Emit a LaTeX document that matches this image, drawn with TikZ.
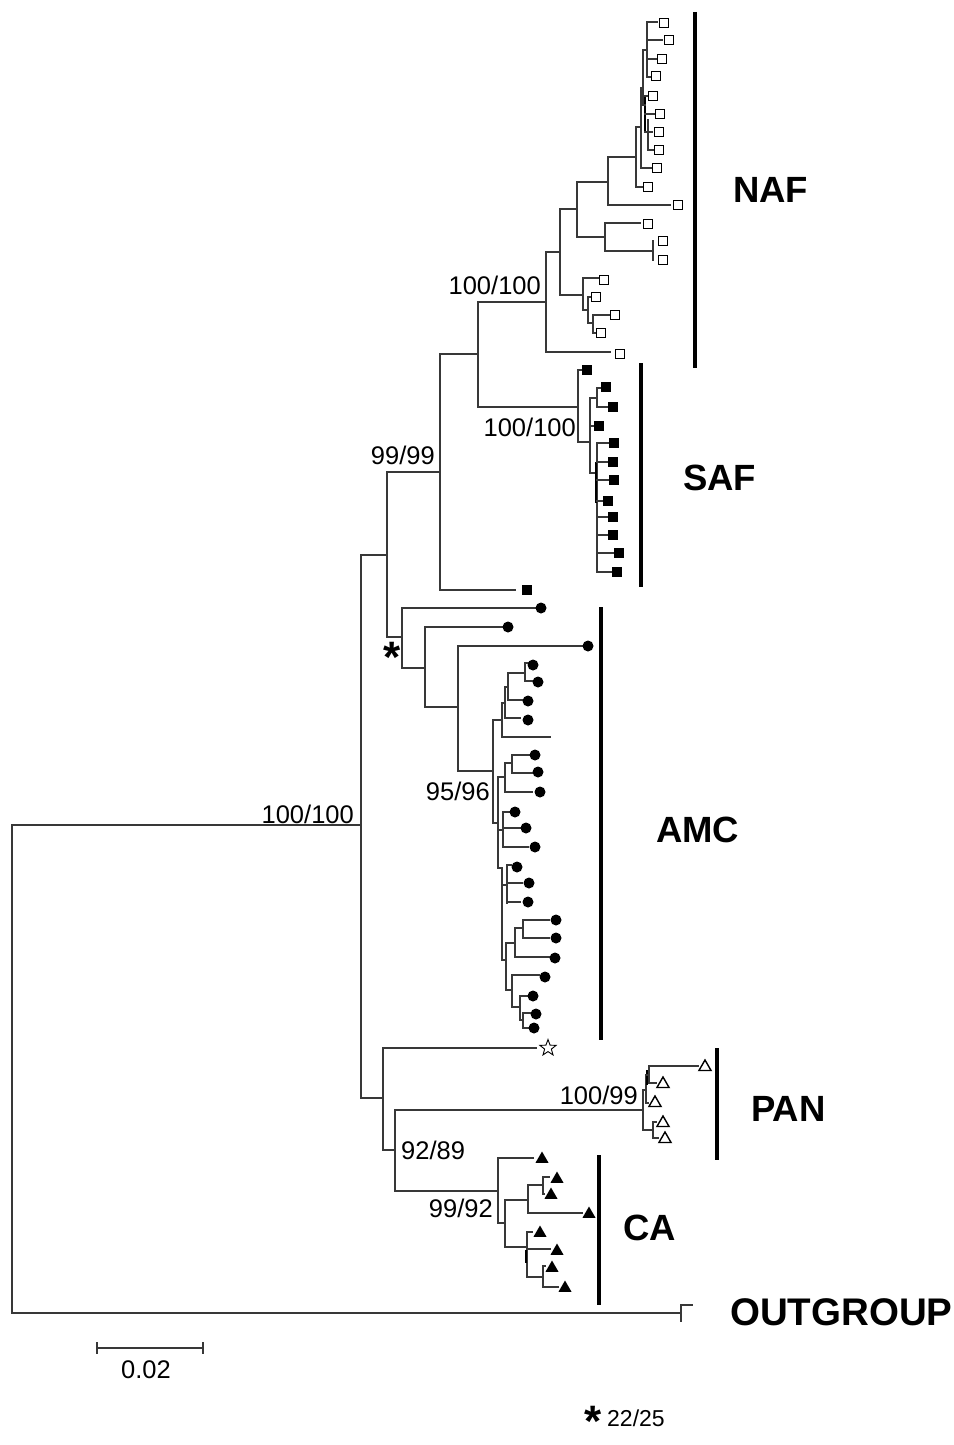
\documentclass[tikz,border=0pt]{standalone}
\usepackage{fontspec}
\setmainfont{Liberation Sans}
\usetikzlibrary{shapes.geometric}
\tikzset{
  br/.style={line width=1.3pt, black!78, line cap=rect},
  thk/.style={line width=2.6pt, black},
  grp/.style={line width=4.5pt, black},
  osq/.style={draw, line width=1.5pt, fill=white, minimum size=9pt, inner sep=0pt},
  fsq/.style={fill=black, minimum size=10.5pt, inner sep=0pt},
  fci/.style={circle, fill=black, minimum size=11pt, inner sep=0pt},
  otr/.style={regular polygon, regular polygon sides=3, draw, line width=1.4pt, fill=white, minimum size=14pt, inner sep=0pt},
  ftr/.style={regular polygon, regular polygon sides=3, fill=black, minimum size=15pt, inner sep=0pt},
  ostar/.style={star, star points=5, star point ratio=2.4, draw, line width=0.9pt, minimum size=17pt, inner sep=0pt},
  boot/.style={inner sep=0pt, font=\fontsize{25.5}{29}\selectfont},
  clade/.style={inner sep=0pt, anchor=west, font=\bfseries\fontsize{36.5}{40}\selectfont}
}
\newcommand\V[3]{\draw[br] (#1,#2) -- (#1,#3);}
\newcommand\Hz[3]{\draw[br] (#2,#1) -- (#3,#1);}
\newcommand\OSQ[2]{\node[osq] at (#1,#2) {};}
\newcommand\FSQ[2]{\node[fsq] at (#1,#2) {};}
\newcommand\FCI[2]{\node[fci] at (#1,#2) {};}
\newcommand\OTR[2]{\node[otr] at (#1,#2) {};}
\newcommand\FTR[2]{\node[ftr] at (#1,#2) {};}
\begin{document}
\begin{tikzpicture}[x=1pt,y=-1pt]
\useasboundingbox[fill=white] (0,0) rectangle (953,1445);
% root and outgroup
\Hz{825}{12}{361}
\V{12}{825}{1313}
\Hz{1313}{12}{681}
\V{681}{1305}{1321}
\Hz{1305}{681}{692}
\V{361}{555}{1098}
\Hz{555}{361}{387}
\Hz{1098}{361}{383}
% upper part
\V{387}{472}{637}
\Hz{472}{387}{440}
\Hz{637}{387}{402}
\V{440}{354}{590}
\Hz{354}{440}{478}
\Hz{590}{440}{515} \FSQ{527}{590}
\V{478}{302}{407}
\Hz{302}{478}{546}
\Hz{407}{478}{578}
% NAF
\V{546}{252}{352}
\Hz{352}{546}{610} \OSQ{620}{354}
\Hz{252}{546}{560}
\V{560}{209}{295}
\Hz{209}{560}{577}
\Hz{295}{560}{583}
\V{583}{278}{310}
\Hz{278}{583}{598} \OSQ{604}{280}
\Hz{310}{583}{588}
\V{588}{297}{323}
\Hz{297}{588}{591} \OSQ{596}{297}
\Hz{323}{588}{593}
\V{593}{315}{333}
\Hz{315}{593}{610} \OSQ{615}{315}
\Hz{333}{593}{596} \OSQ{601}{333}
\V{577}{182}{237}
\Hz{182}{577}{608}
\Hz{237}{577}{605}
\V{605}{223}{251}
\Hz{223}{605}{640} \OSQ{648}{224}
\Hz{251}{605}{653}
\V{653}{241}{260} \OSQ{663}{241} \OSQ{663}{260}
\V{608}{157}{205}
\Hz{205}{608}{670} \OSQ{678}{205}
\Hz{157}{608}{636}
\V{636}{127}{187}
\Hz{187}{636}{643} \OSQ{648}{187}
\Hz{127}{636}{641}
\V{641}{88}{168}
\Hz{168}{641}{651} \OSQ{657}{168}
\Hz{88}{641}{643}
\V{643}{50}{105}
\Hz{50}{643}{647}
\V{647}{22}{77}
\Hz{22}{647}{657} \OSQ{664}{23}
\Hz{40}{647}{662} \OSQ{669}{40}
\Hz{59}{647}{656} \OSQ{662}{59}
\Hz{77}{647}{650} \OSQ{656}{76}
\draw[thk] (645,97) -- (645,132);
\Hz{105}{643}{645}
\Hz{96}{645}{648} \OSQ{653}{96}
\Hz{114}{645}{654} \OSQ{660}{114}
\Hz{132}{645}{652} \OSQ{659}{132}
\V{648}{120}{150}
\Hz{150}{648}{654} \OSQ{659}{150}
% SAF
\V{578}{370}{442}
\Hz{370}{578}{582} \FSQ{587}{370}
\Hz{442}{578}{590}
\V{590}{398}{473}
\Hz{398}{590}{597}
\V{597}{388}{407}
\Hz{388}{597}{601} \FSQ{606}{387}
\Hz{407}{597}{608} \FSQ{613}{407}
\Hz{426}{590}{594} \FSQ{599}{426}
\Hz{473}{590}{597}
\V{597}{443}{572}
\draw[thk] (596,462) -- (596,503);
\Hz{443}{597}{609} \FSQ{614}{443}
\Hz{462}{597}{608} \FSQ{613}{462}
\Hz{480}{597}{609} \FSQ{614}{480}
\Hz{501}{597}{603} \FSQ{608}{501}
\Hz{517}{597}{608} \FSQ{613}{517}
\Hz{535}{597}{608} \FSQ{613}{535}
\Hz{553}{597}{614} \FSQ{619}{553}
\Hz{572}{597}{612} \FSQ{617}{572}
% AMC
\V{402}{608}{668}
\Hz{608}{402}{535} \FCI{541}{608}
\Hz{668}{402}{425}
\V{425}{627}{707}
\Hz{627}{425}{502} \FCI{508}{627}
\Hz{707}{425}{458}
\V{458}{646}{771}
\Hz{646}{458}{582} \FCI{588}{646}
\Hz{771}{458}{493}
\V{493}{720}{823}
\Hz{720}{493}{502}
\V{502}{703}{737}
\Hz{737}{502}{550}
\Hz{703}{502}{505}
\V{505}{687}{718}
\Hz{718}{505}{520} \FCI{528}{720}
\Hz{687}{505}{508}
\V{508}{673}{700}
\Hz{700}{508}{522} \FCI{528}{701}
\Hz{673}{508}{525}
\V{525}{663}{681}
\Hz{663}{525}{528} \FCI{533}{665}
\Hz{681}{525}{533} \FCI{538}{682}
\Hz{823}{493}{498}
\V{498}{777}{868}
\Hz{777}{498}{505}
\V{505}{763}{792}
\Hz{792}{505}{532} \FCI{540}{792}
\Hz{763}{505}{512}
\V{512}{755}{773}
\Hz{755}{512}{530} \FCI{535}{755}
\Hz{773}{512}{532} \FCI{538}{772}
\Hz{830}{498}{503}
\V{503}{812}{847}
\Hz{812}{503}{510} \FCI{515}{812}
\Hz{828}{503}{520} \FCI{526}{828}
\Hz{847}{503}{528} \FCI{535}{847}
\Hz{868}{498}{502}
\V{502}{868}{960}
\Hz{885}{502}{507}
\V{507}{865}{903}
\Hz{865}{507}{511} \FCI{517}{867}
\Hz{883}{507}{522} \FCI{529}{883}
\Hz{902}{507}{520} \FCI{528}{902}
\Hz{960}{502}{506}
\V{506}{943}{990}
\Hz{943}{506}{515}
\V{515}{928}{957}
\Hz{957}{515}{549} \FCI{555}{958}
\Hz{928}{515}{523}
\V{523}{920}{938}
\Hz{920}{523}{549} \FCI{556}{920}
\Hz{938}{523}{549} \FCI{556}{938}
\Hz{990}{506}{512}
\V{512}{975}{1007}
\Hz{975}{512}{539} \FCI{545}{977}
\Hz{1007}{512}{520}
\V{520}{996}{1020}
\Hz{996}{520}{528} \FCI{533}{996}
\Hz{1020}{520}{523}
\V{523}{1013}{1028}
\Hz{1013}{523}{530} \FCI{536}{1014}
\Hz{1028}{523}{528} \FCI{534}{1028}
% PAN + star
\V{383}{1048}{1150}
\Hz{1048}{383}{536}
\node[ostar] (st) at (548,1048) {};
\Hz{1150}{383}{395}
\V{395}{1110}{1191}
\Hz{1110}{395}{643}
\V{643}{1090}{1130}
\Hz{1090}{643}{646}
\V{646}{1075}{1103}
\draw[thk] (647,1070) -- (647,1085);
\Hz{1075}{646}{649}
\V{649}{1066}{1083}
\Hz{1066}{649}{698} \OTR{705}{1067}
\Hz{1083}{649}{656} \OTR{663}{1084}
\Hz{1103}{646}{648} \OTR{655}{1103}
\Hz{1130}{643}{653}
\V{653}{1122}{1138}
\Hz{1122}{653}{656} \OTR{663}{1123}
\Hz{1138}{653}{658} \OTR{665}{1139}
% CA
\Hz{1191}{395}{498}
\V{498}{1158}{1223}
\Hz{1158}{498}{533} \FTR{542}{1159}
\Hz{1223}{498}{505}
\V{505}{1200}{1247}
\Hz{1200}{505}{528}
\V{528}{1185}{1213}
\Hz{1185}{528}{543}
\V{543}{1177}{1194}
\Hz{1177}{543}{549} \FTR{557}{1179}
\Hz{1194}{543}{544} \FTR{551}{1195}
\Hz{1213}{528}{582} \FTR{589}{1214}
\Hz{1247}{505}{527}
\V{527}{1232}{1277}
\draw[thk] (526,1250) -- (526,1263);
\Hz{1232}{527}{532} \FTR{540}{1233}
\Hz{1249}{527}{550} \FTR{557}{1251}
\Hz{1277}{527}{543}
\V{543}{1266}{1287}
\Hz{1266}{543}{545} \FTR{552}{1268}
\Hz{1287}{543}{558} \FTR{565}{1288}
% group bars
\draw[grp] (695,12) -- (695,368);
\draw[grp] (641,363) -- (641,587);
\draw[grp] (601,607) -- (601,1040);
\draw[grp] (717,1048) -- (717,1160);
\draw[grp] (599,1155) -- (599,1305);
% clade labels
\node[clade] (naf) at (733,190) {NAF};
\node[clade] (saf) at (683,478) {SAF};
\node[clade] (amc) at (656,830) {AMC};
\node[clade] (pan) at (751,1109) {PAN};
\node[clade] (ca) at (623,1228) {CA};
\node[clade, font=\bfseries\fontsize{38.5}{42}\selectfont] (og) at (730,1312) {OUTGROUP};
% support values
\node[boot, anchor=east] (b1) at (354,814) {100/100};
\node[boot, anchor=east] (b2) at (435,455) {99/99};
\node[boot, anchor=east] (b3) at (541,285) {100/100};
\node[boot, anchor=east] (b4) at (576,427) {100/100};
\node[boot, anchor=east] (b5) at (490,791) {95/96};
\node[boot, anchor=east] (b6) at (638,1095) {100/99};
\node[boot, anchor=west] (b7) at (401,1150) {92/89};
\node[boot, anchor=east] (b8) at (493,1208) {99/92};
\node[inner sep=0pt, anchor=base, font=\bfseries\fontsize{44}{48}\selectfont] (ast) at (392,672) {*};
% scale bar
\draw[br] (97,1348) -- (203,1348);
\draw[br] (97,1343) -- (97,1353);
\draw[br] (203,1343) -- (203,1353);
\node[boot] (sc) at (146,1370) {0.02};
% footnote
\node[inner sep=0pt, anchor=base, font=\bfseries\fontsize{44}{48}\selectfont] (ast2) at (593,1436) {*};
\node[inner sep=0pt, anchor=west, font=\fontsize{23}{26}\selectfont] (fn) at (607,1418) {22/25};
\end{tikzpicture}
\end{document}
